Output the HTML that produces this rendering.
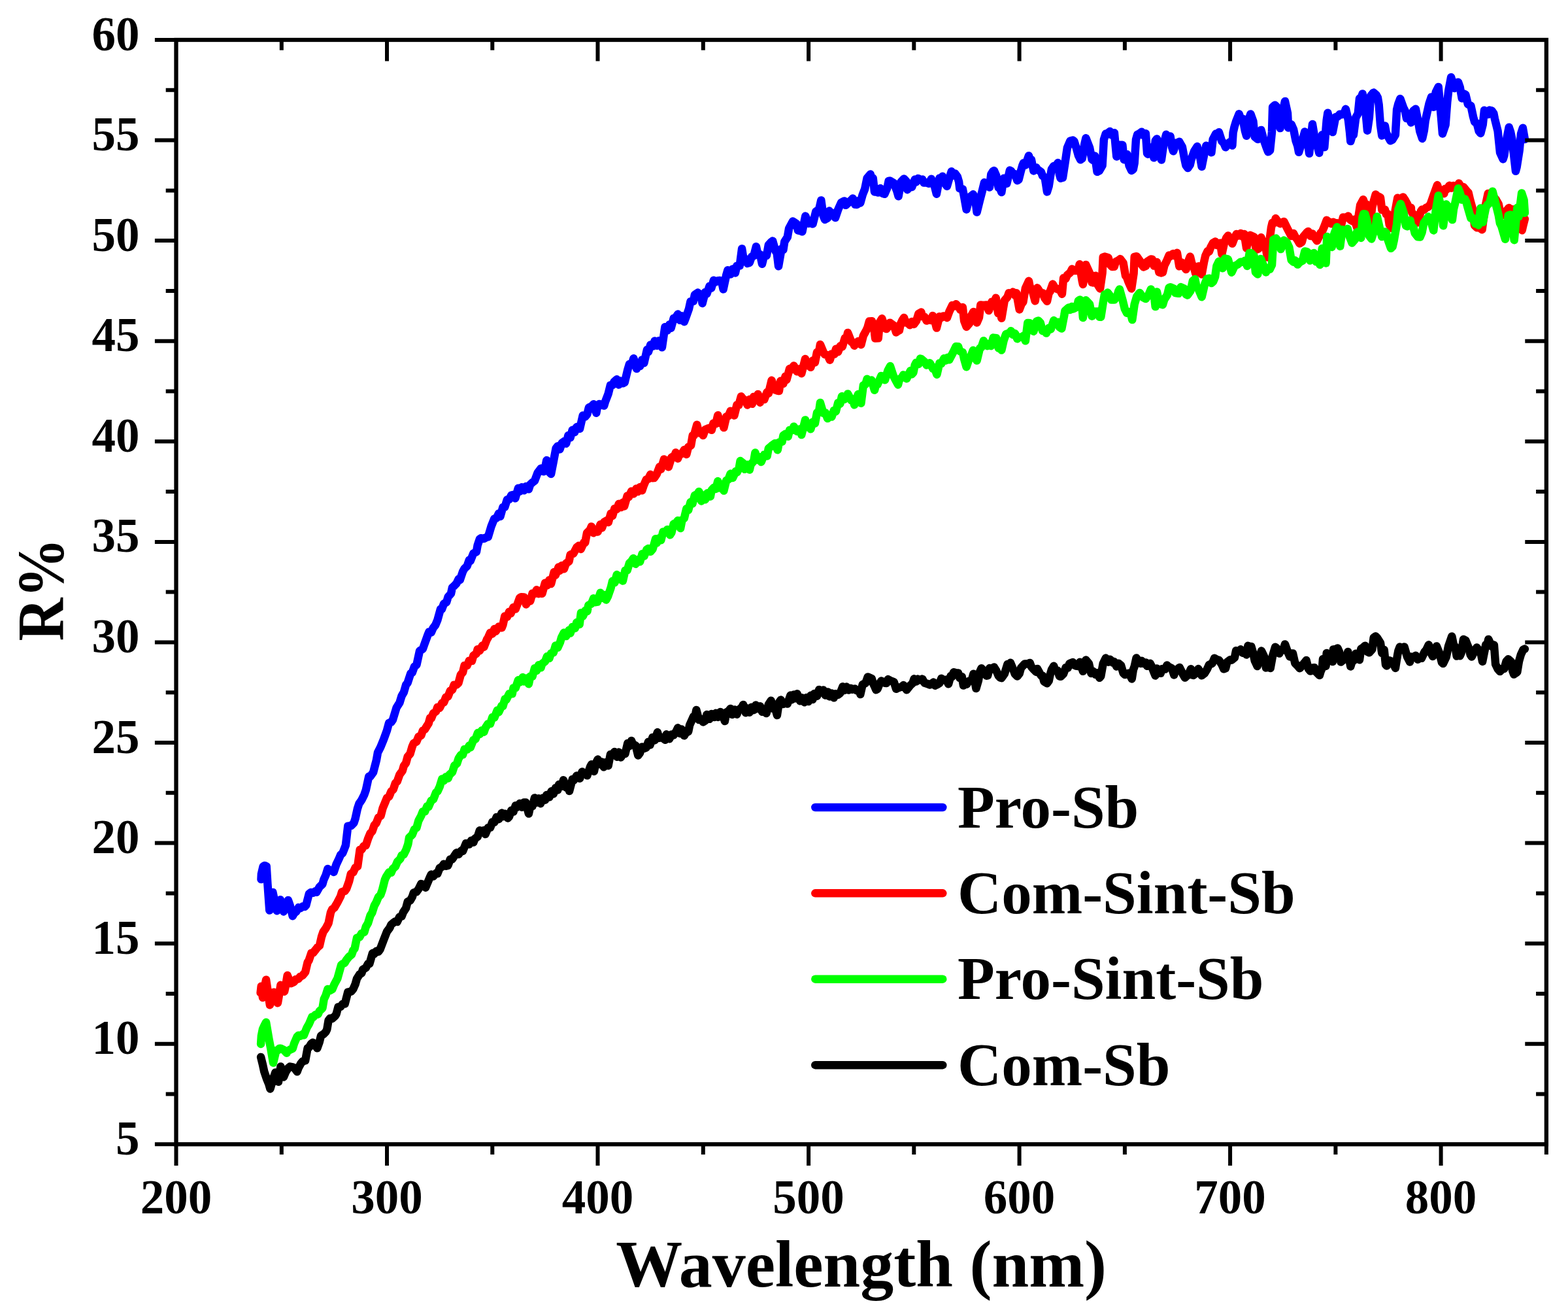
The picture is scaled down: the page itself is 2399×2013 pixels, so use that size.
<!DOCTYPE html>
<html lang="en">
<head>
<meta charset="utf-8">
<title>R% vs Wavelength (nm)</title>
<style>
html,body{margin:0;padding:0;background:#fff;}
body{width:2399px;height:2013px;overflow:hidden;}
svg{display:block;}
text{font-family:"Liberation Serif",serif;font-weight:bold;fill:#000;}
.tk{font-size:73px;}
.ttl{font-size:102px;}
.yl{font-size:102px;}
.lg{font-size:93px;}
.c{fill:none;stroke-width:12.5;stroke-linejoin:round;stroke-linecap:round;}
.ax{stroke:#000;fill:none;}
</style>
</head>
<body>
<svg xmlns="http://www.w3.org/2000/svg" width="2399" height="2013" viewBox="0 0 2399 2013">
<rect x="0" y="0" width="2399" height="2013" fill="#fff"/>
<g id="curves">
<polyline class="c" stroke="#000000" points="399.1,1616.9 401.7,1627.4 404.3,1639.3 408.2,1650.6 411.4,1658.5 413.4,1665.6 417.9,1650.3 421.4,1640.4 426,1654.8 429.4,1631.5 434,1647.4 437.2,1639.6 440.9,1633.8 443.7,1631.5 447.7,1632.4 450.1,1633.3 454.6,1639.2 456.6,1633.6 460.3,1626.7 463,1623.5 467.1,1622.3 470.6,1603.3 472.7,1602.4 475.9,1596.7 478.6,1594.7 482.4,1599 485.4,1603.3 488.8,1593.6 491.1,1584.2 495.3,1581.6 498.5,1578.4 500.3,1574.6 502.6,1560.7 504.9,1557.7 508.2,1558.2 512.9,1553.9 514.6,1551 517.4,1540.5 521.1,1539.8 524.3,1535.7 527.7,1535.4 532.3,1517.6 537.2,1516.6 540.3,1513 543.6,1505.5 546,1497 550.1,1490.5 553.3,1488.4 555.1,1483 559.8,1480.4 563,1474.3 565.4,1474 570,1458.1 572.7,1459 575.9,1454.7 579.1,1455.6 581.4,1452.4 587.1,1437.5 592,1425 596.3,1419.2 598.5,1414.4 601.7,1411.6 604.9,1409.4 607.7,1410 611.4,1402.3 614.6,1401.7 616.9,1395.5 621.1,1389.1 623.7,1379.4 627.5,1377.4 630.7,1372.1 632.9,1365.6 637.2,1364.3 640.4,1359.9 644.3,1351.9 646.9,1353 651.1,1357.7 653.3,1352.3 658,1341.3 659.8,1337.6 663,1340.5 667.1,1335.8 669.4,1336.3 672.7,1327.7 676.3,1325.7 679.1,1321.7 682.3,1324.7 685.4,1323.9 688.8,1314.5 692,1314.2 694.6,1310.1 698.5,1304.3 701.7,1306.8 706,1301.1 708.1,1301.8 712.9,1290 717.8,1291.5 721,1285.7 724.3,1288.6 726.6,1282.8 730.7,1279.9 733.9,1270.3 735.7,1271.8 740.4,1270.1 742.6,1276 746.8,1266.2 750.1,1265.9 753.3,1257.5 756.3,1257.7 759.7,1249.9 763,1253.2 767.7,1243.6 769.4,1249 772.6,1244.8 776.9,1251.4 779.1,1249.1 782.3,1239.6 785.5,1241.7 788.8,1232.2 790.6,1235 795.2,1229 798.4,1234.7 801.7,1227.6 804.3,1227.5 808.9,1244.6 811.3,1233.7 814.6,1233.2 818,1220.4 821,1227.8 824.2,1221.3 827.1,1229.2 830.7,1220.6 833.9,1223.8 836.3,1216 840.4,1219.4 843.6,1210.3 846.8,1214.4 850,1205.2 853.3,1208.5 855.1,1200.1 859.7,1202.7 862,1193.2 866.2,1204.6 869.4,1201.8 871.1,1209.9 875.8,1192 878,1193.5 882.3,1186.6 887.1,1190.7 890.6,1180.5 896.3,1184 898.4,1186.3 903.1,1172.7 904.9,1169.3 908.9,1179.9 911.3,1168.1 914.6,1161.6 917.8,1169.2 921,1165.5 923.7,1173.3 927.4,1165.9 930.6,1171.2 933.9,1154.1 936.3,1154.3 940.3,1150 944.3,1157.8 946.8,1150.6 950,1158.4 953.4,1152.7 956.5,1152.9 960.3,1136.9 962.9,1141.1 966.1,1133.1 968.3,1138.4 972.6,1140.4 976.3,1155.5 979.1,1151.7 982.3,1142.5 985.4,1144.9 988.7,1143.7 992,1134.7 994.6,1139.5 998.4,1127.9 1001.6,1132.4 1006,1120.1 1008.1,1128.9 1012.9,1128.1 1017.8,1131.8 1019.7,1123.3 1024.2,1130.2 1027.7,1123.5 1030.7,1124.5 1034.6,1118.6 1037.1,1113.3 1040.3,1121.9 1042.6,1115.4 1046.8,1125.3 1049.4,1120.9 1053.2,1118.9 1055.1,1109.3 1060.9,1096.2 1062.9,1098.3 1065.4,1086 1069.4,1101.1 1072.3,1099.8 1075.8,1104.4 1079,1102.5 1081.4,1093.1 1085.5,1099.8 1088.7,1092 1092.9,1097.1 1095.2,1090.8 1098.4,1096.9 1102,1089 1104.8,1090.9 1108.9,1103.1 1111.3,1089.6 1114.6,1087.9 1117.7,1083.9 1120.3,1093 1124.2,1085.5 1127.4,1092.7 1129.4,1086.7 1135.1,1081.8 1137.1,1077.9 1140.9,1090.3 1143.5,1083.5 1146.8,1089.7 1150,1081.7 1153.2,1086.2 1156.4,1078.6 1159.1,1084 1162.9,1080.2 1166.1,1088.8 1170.6,1086.6 1172.6,1091.1 1175.8,1077.7 1179.7,1071.7 1182.2,1083.8 1185.5,1081.2 1188.9,1094 1191.9,1074.4 1194.6,1070.6 1198.4,1076.9 1201.4,1074.9 1204.8,1076.5 1209.4,1063.6 1211.3,1070.3 1214.5,1062.6 1217.7,1068.3 1219.7,1061.3 1224.2,1072.3 1226.6,1067.2 1230.6,1074.2 1233.8,1067.1 1236.9,1073.1 1240.3,1063.8 1243.5,1069.9 1246,1061 1250,1064.8 1253.2,1054.9 1256.3,1059.5 1259.6,1055.4 1262.9,1063.6 1266.6,1058.4 1269.3,1065.4 1272.5,1060.6 1275.8,1067.3 1278,1061.3 1282.2,1062.7 1285.4,1060.3 1289.4,1050.2 1291.9,1055.9 1295.1,1050.6 1298.6,1055.5 1301.6,1052.7 1303.7,1054.6 1308,1053.5 1310.6,1056.3 1314.5,1055.3 1316.3,1062 1319.7,1047.1 1324.3,1044.8 1327.7,1035.4 1330.6,1036.5 1333.8,1038.1 1335.7,1045 1338,1049.6 1340.3,1055.2 1342.6,1053.8 1346,1045.1 1348.3,1041.6 1354,1044.7 1356.4,1044.9 1358.6,1039.1 1362,1041 1367.7,1043.3 1371.1,1053.7 1374.6,1052.1 1380.3,1050.2 1382.2,1048 1387.1,1055.3 1392.9,1048.1 1396.3,1045.1 1398.6,1038.3 1401.6,1042.6 1404.3,1038.7 1408.9,1040.5 1411.2,1038.6 1414.6,1044.7 1418,1045.6 1422.6,1047.5 1428.3,1043.6 1430.6,1048.7 1433.4,1047.4 1437.4,1044.9 1440.3,1037.8 1442,1040.4 1447.7,1039.8 1451.1,1046.2 1454.6,1033.9 1456.4,1035.3 1459.1,1028.3 1462.6,1029.3 1466.1,1029.5 1468.3,1037.1 1471.7,1035 1474,1048.6 1475.7,1044 1479,1046.8 1482,1041.9 1486.6,1040.6 1489.4,1030.8 1493.4,1053.1 1496.9,1041.1 1499.1,1027.6 1501.5,1022.3 1503.7,1024.4 1509.4,1033.6 1511.2,1033.3 1514,1022.1 1517.4,1023.6 1520.9,1020.5 1524.3,1025.9 1527.7,1033.8 1530,1036.3 1532.3,1037.1 1536.9,1030.6 1541.4,1016.1 1543.5,1018.7 1546,1013.8 1550.6,1025 1552.9,1031.1 1556.4,1034.5 1559.7,1030.4 1562,1021.8 1567.7,1015.5 1573.4,1015.6 1575.7,1013.9 1578,1020.1 1581.4,1023.9 1585.4,1027.9 1587.1,1022.9 1592.9,1033.4 1595.1,1033.6 1597.4,1042.4 1602,1045.3 1604.7,1041.4 1606.6,1032.2 1608.9,1024.5 1612.3,1018.8 1614.4,1025.6 1618,1025.8 1620.9,1034.3 1623.1,1034.8 1627.1,1030.6 1630.6,1021.2 1633.8,1021.5 1636.3,1015 1641.4,1013 1643.4,1017.3 1646.6,1018.6 1649.9,1019.2 1652.3,1012.8 1656.9,1026.8 1659.6,1012.5 1661.4,1009.6 1666,1015.1 1669.4,1029.9 1672.5,1026.8 1676.3,1031.9 1678.9,1029.3 1682.2,1036.8 1684.3,1034.2 1687.7,1015 1690,1010.4 1691.8,1006.6 1695.7,1012.7 1698.3,1008.7 1702.6,1013.5 1704.7,1012.1 1708.3,1019.5 1711.2,1014.7 1715.1,1017.9 1718.6,1029.6 1720.9,1032 1724.3,1030.8 1727.3,1029.7 1731.7,1038.4 1733.8,1024.7 1735.7,1019.5 1738.6,1006.4 1744.9,1014.9 1746.7,1010.8 1750.6,1015.3 1753.1,1013.4 1755.1,1018.8 1759.6,1014.7 1762,1019.2 1765.4,1028 1767.7,1033.5 1770,1022.6 1772.3,1029.2 1775.7,1029.8 1778,1023.3 1782.6,1023.6 1785.4,1017.5 1787.1,1019.4 1792.9,1022.3 1796.3,1032.4 1798.3,1024.5 1800.9,1024.3 1804.7,1020.9 1806.6,1024.8 1810,1031.6 1812.9,1036.6 1818,1032.1 1822,1023.3 1824.1,1032.5 1826,1032.9 1830.6,1028.8 1833.4,1023.1 1838.6,1033.3 1843.1,1029.8 1846.6,1024.1 1850,1016.7 1854.6,1014.9 1858,1006.8 1862.8,1009.4 1864.9,1009.7 1869.4,1016.7 1872.4,1023.3 1875.1,1022.4 1877.4,1012.7 1882.1,1009.3 1884.3,1009.8 1888.9,1006 1891.1,995.3 1895.1,996.4 1898.2,993.3 1901.4,998.8 1904.7,996 1907.1,1001.5 1909.4,987.8 1912.3,989.3 1914.4,988.9 1917.4,999.3 1919.7,1010.5 1923.7,1019.1 1927.7,1002.9 1930,995.6 1934.6,1005.2 1936.9,1021.4 1940.2,1020 1943.7,1021.9 1947.1,1003.1 1951.1,989.8 1953.1,991.3 1957.4,999.6 1959.5,994 1963.1,994.4 1966,985.4 1970,996.7 1973.4,1004.4 1975.6,999.6 1978,999.5 1981.4,1014.5 1984.9,1018 1988.5,1022.3 1991.7,1018.6 1995.1,1014.5 1998.6,1010 2002,1023.2 2004.9,1026.6 2008.3,1021.4 2011.1,1021.3 2013.7,1027.9 2018.9,1033.1 2020.8,1026.5 2022.9,1022 2024,1008.1 2028.6,1018.7 2029.7,999 2033.1,1001 2036.9,1004.2 2038.9,1012.1 2040,993.4 2044,993 2046.6,991.5 2049.1,997.2 2051.4,1012.6 2057.1,1007.9 2060.6,1002.5 2062.3,997 2066.3,1019.5 2069.2,1010 2070.9,1010.6 2074.3,999.7 2080,1009.3 2082.3,992.6 2085.3,990.7 2088.6,987.7 2091.8,996.8 2094.9,998.2 2099.4,993.3 2101.7,975.2 2104.7,973.3 2106.9,975.4 2112,983.3 2114.3,998.9 2117.7,993.9 2120,1016.6 2121.7,1018.4 2125.7,1010.3 2130.3,1012.4 2134.9,1021.9 2138.3,1001.1 2139.4,995.5 2141.7,989.5 2146.6,993.9 2148.6,989.4 2153.1,1004.9 2157.1,1012.5 2159,1004.6 2162.7,1005.8 2165.9,1002.7 2169.2,1008.7 2172.4,1005.9 2175,1006.7 2179.6,997 2182.1,994.3 2185.9,986.3 2188.5,997.3 2192.1,1004 2195,1000 2197.9,988.4 2202.4,999.4 2205.9,1013.2 2207.9,1015 2212.7,1005.1 2216.1,988.2 2221.3,973.4 2224,986.2 2226.4,989.4 2228.7,1003.6 2230.4,998.9 2233.7,1003.2 2235.6,999 2239,978 2242.4,979.6 2247,991.1 2249.8,1001.8 2251.6,1004.5 2257.3,993.5 2259.5,990.5 2263,995.6 2265.9,1000.5 2268.1,1011.9 2273.3,986.1 2275.6,985.2 2277.3,977.9 2282.4,988.9 2285.9,986.6 2288.1,1016.1 2291.6,1023.3 2294.9,1027 2299.6,1022.3 2301.4,1022.9 2304.6,1011.4 2307.6,1008.2 2312.1,1012.1 2314.3,1026.5 2316.1,1031.5 2321.3,1028 2324,1011.4 2327,1001.1 2330.4,993.9 2332.9,992.6"/>
<polyline class="c" stroke="#0000ff" points="399.5,1345.1 399.9,1336.9 402.6,1325.4 405,1324 407.7,1325.2 409.4,1352.2 412.3,1392.5 414.6,1381.2 417.4,1365 421.1,1382.8 423.7,1393.2 428.9,1376.3 430.8,1381.2 434,1394.4 437.2,1384.7 440.9,1376.9 443.7,1385.1 447.7,1401.2 450.1,1396.9 453.3,1394.3 456.9,1388.2 459.8,1389.1 463,1386.6 466.2,1386.9 468.3,1384.7 472.9,1367 475.9,1364.9 479.1,1365.8 482.4,1363.4 484.3,1364.8 488.8,1356.7 493.4,1352.4 495.3,1345.6 498.5,1338.5 501.4,1329 504.9,1331.7 508.2,1331.1 510.6,1334 514.6,1322 518.6,1313.6 521.1,1307.7 524.3,1304.8 526.6,1298.9 528.9,1293 532.3,1263.7 537.2,1263 541.4,1258.9 543.6,1252.1 546.9,1237 549.4,1229.4 553.3,1223.8 557.4,1215.4 559.8,1208.5 564.3,1187.7 566.2,1188.2 571.1,1181.3 575.9,1162.9 578,1151.1 582.3,1142.7 587.1,1130.9 592,1117.3 595.1,1105.8 598.5,1104.6 600.9,1101.2 606.6,1082.5 611.4,1074.9 614.6,1064.4 617.8,1059.1 621.1,1047.6 623.7,1044.3 628.3,1030.1 630.7,1028.9 634,1019.6 637.4,1017 642,995.8 646.9,992.5 648.9,986.7 654.6,971 656.5,966.4 659.8,967.4 662.6,960.8 666.2,956.1 669.4,948.4 674,931.6 675.9,932.2 679.1,923.5 683.1,921.3 685.6,913 690,907.9 692,898.7 694.6,896.5 698.5,892.4 701.7,885.6 703.7,887.2 708.1,874.3 710.6,869.8 714.6,866 717.8,856.7 719.7,858 724.3,846.5 728.9,844.1 730.7,833.9 733.9,824.5 735.7,823.2 740.4,824 744.9,821.5 746.8,821.3 751.7,804.8 756.3,793.4 759.7,792.4 763,785.5 765.4,790 769.4,775.9 772.3,775.7 775.9,764.4 779.1,763.8 782.3,757.6 785.5,756.9 788.3,762.2 792.9,746.7 795.2,751.6 798.4,745.3 801.7,750.2 804.9,743.9 808.9,748.3 811.3,741.1 814.6,738 818,735.5 822.6,723.3 827.5,716.6 831.7,721.3 833.9,715.7 836.3,704.1 840.4,722.3 843.1,724.9 846.6,707 850.6,685.9 853.3,682.4 856.5,687.3 859.7,677.7 864.3,674.5 866.2,678.5 869.4,666.1 872.6,669.4 875.7,657.8 879.1,661.3 882.3,653.1 887.1,655.7 891.7,635.6 895.2,637.4 898.4,633.6 900.9,623.5 905.4,621.4 908.1,618.2 912.3,631.7 914.5,619.8 916.9,618 921,619.4 924.2,620.6 926,614.5 930.6,602.6 933.9,589.2 937.1,589 939.7,583.8 943.6,580.3 946.8,588.5 948.9,582.6 953.2,586.2 955.7,585.1 960.3,565.7 962.9,557 966.1,558.4 969.4,548.3 974,564 975.8,556.3 979.1,560.3 982.3,550.4 985.4,555.2 990,534.9 992,538.2 995.2,527.6 999.1,529.5 1001.6,521.5 1004.9,528.7 1008.3,521.2 1012.9,531.3 1017.4,500.3 1021,505.5 1024.2,496.5 1026.6,501.8 1030.7,486.8 1033.4,486.3 1037.1,480.6 1040.3,489.8 1042.6,483.2 1046.8,492.2 1049.4,485.5 1054,472.5 1056.5,461.1 1060.9,460.7 1062.9,451 1067.7,447.8 1072.6,452.5 1074.6,464 1079,446.9 1081.4,449.5 1085.5,437.7 1088.3,440.7 1091.9,428.8 1095.2,431.2 1097.4,429.4 1101.6,429.1 1104.8,434 1106.6,442.5 1111.3,420.4 1113.4,413.3 1117.7,419.6 1121,411.6 1124.9,417.5 1127.4,406.7 1131.7,406.5 1135.1,380.5 1137.1,393.3 1140.9,396.6 1143.5,403 1146.8,401.8 1150,392.7 1153.2,391.5 1156.9,377.2 1159.7,389.9 1162.9,389.2 1166,403.8 1169.3,390.6 1172.9,391 1175.8,374.8 1179.7,370.5 1182.2,368.6 1186.6,384.2 1188.7,387.5 1191.1,407.3 1195.7,380.6 1198.4,382 1200.3,369.6 1204.8,362.7 1207.1,349.4 1212.9,338.6 1218.6,342.3 1220.9,352.3 1225.4,353.3 1227.4,354.3 1232.3,330.5 1237.1,341.9 1241.4,340.4 1243.5,342.6 1248.3,323.6 1253.2,320.1 1256.3,306.4 1259.6,330.1 1262,335.9 1266.1,333.5 1268.9,322.5 1272.5,329.5 1275.8,325.9 1278,333.1 1282.6,319.8 1287.1,309.8 1291.9,307.4 1294,313.8 1298.3,309.9 1302.6,305.9 1304.8,303.5 1308.3,312.8 1311.2,312.9 1314.5,306.8 1316.3,310.4 1319.7,298 1323.1,289.4 1326.6,272.6 1331.7,266.6 1333.8,273.7 1335.7,272.6 1338,293.4 1340.3,293.4 1343.5,294.5 1347.1,288.1 1350,295.8 1353.4,296.8 1357.4,287.5 1359.6,276.9 1361.4,276.5 1367.7,280.2 1372.3,292.2 1374.6,300.2 1378.6,278 1383.1,273.4 1387.1,277.7 1388.3,290.2 1391.9,283.9 1395.1,286.2 1399.7,274.5 1401.6,278.3 1404.8,272.9 1407.7,275.3 1411.2,274.5 1413.4,279.4 1418,279.2 1420.9,280.8 1424.9,273.8 1427.4,282 1429.4,283 1432.9,296.7 1437.4,272.5 1440.3,275.1 1442,269.8 1446.6,281.6 1448.9,284.9 1452.3,273 1455.7,262.3 1459.6,268.4 1461.4,265.6 1464.9,270.5 1467.1,278.1 1468.3,288.2 1472.9,289.4 1475.1,300.7 1478.6,320.4 1482.2,306.6 1484.3,301 1488.9,297.3 1492.3,306.9 1494.6,324.6 1499.1,306.3 1502.6,292.9 1506,279.1 1508,283.8 1510.6,280.2 1514,286.5 1516.3,266.8 1519.1,262.1 1520.9,261 1524.3,268.8 1527.7,287 1530,288 1532.3,294.1 1535.7,272.7 1540.3,280.8 1544.9,260.6 1547.1,261.8 1549.9,265.9 1552.9,266.2 1556.4,276.2 1558.6,274.6 1562,261.3 1564.3,253.3 1566,249.3 1568.9,252.6 1574,238.2 1575.7,244.7 1578,244.6 1581.4,261.4 1585.4,256.2 1587.1,259 1592.9,263.1 1595.1,269 1598.6,271.5 1602,293.4 1604.7,284.7 1606.6,272 1608.9,258.8 1612.3,253.9 1614.4,256.7 1618.6,248.9 1620.9,266.3 1622.6,272.7 1626,271.8 1629.4,249.7 1632.9,226 1637.4,215.6 1641.4,214.6 1643.4,215.9 1646.6,225.9 1650,238 1653.1,244.3 1655.7,242.6 1659.1,221.4 1661.4,211.3 1667.1,225.9 1670.6,243.7 1672.5,245.3 1675.1,238.5 1678.6,262.8 1682,261.1 1686.6,253.2 1688.9,213.4 1691.8,204.5 1694.6,203.9 1698.3,201 1700.3,206.2 1704.9,203.2 1707.1,226.7 1708.3,239.5 1711.2,224.6 1712.9,221.8 1717.4,221.8 1719.7,244.2 1724.3,236 1727.7,253.7 1731.1,260.9 1733.8,258.9 1735.7,249.6 1738,213.5 1740.2,205.7 1743.1,204.5 1746.7,201.8 1749.4,207 1752.9,204.2 1755.1,234.7 1756.3,235.9 1760.9,225.5 1762.8,228.5 1765.4,241.3 1767.7,215.4 1770,212.4 1773.4,232.2 1776.9,244.6 1780.3,220.8 1782.6,211.9 1784.3,205.8 1788.6,212 1790.6,208.5 1792.9,224.5 1795.1,231.3 1799.7,218.4 1801.5,221.7 1804.3,216.8 1808.9,224.9 1812.3,243.3 1814.4,253 1817.4,257 1820.8,252 1822.6,243.8 1827.1,231.4 1831.7,224.1 1833.7,235.4 1835.7,238 1838.6,254.9 1843.1,232.6 1845.4,222.8 1850,224.7 1853.4,233.2 1855.7,213.1 1860.3,204.4 1862.8,207.7 1864.9,202.2 1869.4,216.1 1872.4,219 1875.1,225.2 1879.7,219 1882.1,217 1885.4,222.6 1886.6,202.8 1888.6,194 1891.1,185.8 1895.7,174.2 1898.2,181.6 1901.4,181.7 1904.9,200.2 1907.1,207.7 1910.6,182.3 1913.4,174.4 1917.4,185.7 1919.7,209.2 1924.3,213.1 1927.3,207.7 1929.4,198.9 1933.4,213.7 1938,226.8 1940.2,232.3 1943.1,230 1946,201.8 1947.1,163.7 1950.6,160.7 1953.1,163.2 1955.1,172.9 1958.6,196.1 1962,172.9 1966,154.9 1970,173.1 1971.1,195.4 1975.7,190.3 1979.1,198.1 1982.6,215.4 1985.3,223.1 1987.1,232.8 1991.7,218.3 1996.3,201.5 1999.7,209 2003.1,234.8 2008,190 2012.6,217.4 2014.3,218.2 2018.3,233.9 2020.8,214.7 2022.9,206.2 2026.3,225.2 2029.7,183.9 2031.4,172.8 2035.4,188.9 2038.9,202.1 2043.4,179 2046.9,178.2 2049.8,174.7 2052.6,175.3 2056.3,174.1 2058.9,166.8 2062.9,183.6 2065.1,202.5 2066.3,216.1 2069.2,206.4 2070.9,206.2 2074.3,179.9 2077.7,173.8 2080,150.5 2082.1,150.8 2084.6,143.4 2089.1,168 2092,199.7 2094.9,179.5 2097.1,146.8 2101.4,141.6 2105.7,145.3 2107.9,149.3 2109.7,160.6 2112,191.4 2114.3,207.4 2118.9,192.4 2120.8,202.8 2123.4,208.3 2127.2,215.2 2130.3,213.8 2134.9,206.2 2137.1,167.5 2139.4,158.7 2142.3,151 2147.4,165.1 2149.8,169.9 2152,180.9 2156.3,180.9 2158.9,187.5 2159,175.6 2162.7,169.2 2165.9,166.8 2170.4,189.4 2172.4,201.1 2176.1,212 2178.8,200 2180.7,184.7 2186.4,159 2189.9,148.4 2193.3,163.7 2196.7,141.1 2200.7,132.9 2204.7,176.7 2207,204.4 2211.6,190.9 2214.3,155.8 2216.1,139.5 2220.1,118.2 2225.3,135 2227.2,128 2231,125.7 2233.7,133.3 2236.7,150.4 2240.1,143.5 2242.4,144.9 2245.9,159.5 2250.4,161.8 2253.9,178.4 2256.2,186.7 2259.6,188.7 2262.7,200.6 2265.3,203.9 2268.7,190.8 2271,168.7 2276.7,175.1 2278.8,168.6 2282.4,169.4 2285.3,173.6 2287,182.1 2291.6,200.4 2295,233.4 2299.6,243.4 2301.4,237.6 2304.1,217.8 2308.7,194.7 2311.1,201.7 2313.3,212.4 2319,261.8 2320.7,255.1 2324.7,229.7 2327,204.7 2329.9,195.8 2332.9,213.1"/>
<polyline class="c" stroke="#ff0000" points="398.6,1518.6 399.7,1508.7 402,1526 405,1508.8 407.1,1498.7 412.9,1537.2 414.6,1533.1 419.1,1517.8 421.1,1524.9 424.9,1534.3 427.5,1518.9 429.4,1506.8 435.1,1516.7 437.2,1507.1 439.7,1492 443.7,1501.9 445.4,1504.1 450.1,1501.8 452.3,1498.2 456.6,1497.3 459.1,1494 463,1491.9 467.1,1487 470.6,1472.1 472.7,1468.8 476.3,1458 479.1,1457.5 483.1,1452.5 485.6,1449.2 488.9,1446.5 492,1432.9 494.6,1425.4 498.5,1419.9 502.6,1412.1 506,1395.6 508.2,1390.9 511.4,1388.7 516.3,1380.4 521.1,1371 523.1,1364.2 527.5,1363 530,1359.6 534,1348.4 536.9,1336.6 540.4,1334.3 543.6,1327.3 547.1,1325.3 550.6,1300 553.3,1299.6 556.5,1294.3 559.7,1293.3 563,1283.2 566.6,1274.5 569.4,1271.8 572.7,1262.2 575.7,1259 579.1,1250.4 582.6,1247.7 585.6,1236.1 589.4,1227 592,1220.5 595.2,1218.5 598.6,1210.5 601.7,1207.5 604.9,1198 607.7,1195.3 611.4,1184.9 615.7,1179 617.8,1171.7 621.1,1167.1 623.7,1157.5 627.5,1152.9 630.7,1141.9 632.9,1136.9 637.2,1134.6 640.4,1126.8 644.3,1125 646.9,1117.5 650.1,1115.5 653.3,1110.2 655.7,1106.6 658,1098.3 659.8,1099 663,1091 667.1,1088.1 669.4,1081.7 672.7,1082.9 676.3,1075.4 679.1,1074.4 682.3,1066.4 685.4,1065.5 688.8,1056.7 692,1055.1 694.6,1047.7 698.5,1047.6 701.4,1044.8 704.9,1032 708.1,1028.3 710.6,1018 714.6,1018 717.8,1010.7 722,1010.9 724.3,1002.9 728.9,999.6 730.7,993.2 733.9,995.3 738,987.6 740.4,989.7 744.9,978.3 747.1,974.6 750.1,967.7 753.3,969.5 756.5,962.1 758.6,965.6 763,958.7 767.7,960.2 769.4,955.8 772.3,942.6 775.9,943.6 779.1,935.7 781.4,938.5 785.5,929.1 788.8,931.5 792.9,920.7 795.2,914.4 797.4,913.2 801.7,913.5 804.9,924.6 806.6,920.9 811.3,919.3 814.6,907.8 818,908.1 821,902.3 824.2,908.3 827.5,903.4 829.4,908 834,891.7 837.1,895.4 840.4,887.3 843.1,893 847.7,875.1 850,879.6 854.6,867.5 856.5,872.9 859.7,865.1 862.9,870.2 866,861.9 870.6,858.6 872.6,848.5 877.4,846.6 882.3,837.4 885.5,834.7 888.7,839.9 893.4,829.9 895.2,830.2 898,815.3 902.6,810.8 904.9,805.4 908.1,815.2 911.7,811.1 914.5,813.5 918.6,802.2 921,807.4 924.2,798.6 927.7,796.5 930.7,799 934.6,785.5 937.1,789 940.3,777.9 943.7,778.9 946.8,770.7 950,776.1 953.2,768.6 955.1,774.4 959.7,758.6 962,760.2 966.1,751.4 969.4,755.4 973.4,747.5 975.8,752.1 979.1,745.1 982.3,750.2 984.9,742.5 988.7,733.6 991.7,732.8 995.2,725.8 998.4,731.2 1000.9,731.1 1004.9,725 1009.1,713.9 1011.3,717.6 1016,702.4 1017.8,709.4 1021,704.9 1022.9,714.2 1027.4,699.6 1032,697 1033.9,692.3 1037.1,701.4 1038.9,696.3 1043.4,693.8 1046.8,688.1 1050.3,695 1053.2,683.5 1057.1,681.5 1059.7,666.2 1061.7,666.1 1066.3,649.7 1069.4,662.2 1073.1,660.9 1075.8,666 1079,657 1082.3,655.7 1084.6,654.9 1088.7,657.8 1091.4,647.6 1095.2,648.2 1098.3,635.2 1101.6,647.1 1104.8,644.4 1107.4,654.1 1111.3,637.3 1114.3,636.5 1117.7,628.9 1121,629.5 1123.4,635.4 1127.4,619.4 1130.3,619.5 1133.9,606.4 1136,609.4 1141.7,613.5 1143.5,619.6 1146.8,611 1150.9,617.8 1153.2,606.9 1157.7,607.1 1159.7,602.9 1162.9,615.7 1164.6,611.3 1169.3,611.1 1173.7,599.6 1175.8,601.8 1180.6,581.8 1185.5,596.1 1189.7,597.7 1191.9,598.1 1194.3,582.7 1198.4,587 1201.6,575.7 1203.4,581.1 1208,564.1 1210.3,565.9 1214.5,559.4 1219.4,568.3 1224.2,563.9 1226.3,571.3 1232,549.1 1233.8,558.7 1237.7,558.9 1240.3,561.8 1243.5,551.5 1246.9,554.4 1250,538.7 1253.2,537.3 1254.9,526.9 1259.6,538.2 1261.7,542.1 1266.1,543.1 1269.7,550.7 1272.5,541.5 1276.6,541.6 1279,533.8 1282.2,538.2 1285.7,529.1 1288.7,530.3 1292.6,517.6 1295.1,517.8 1297.1,508.9 1302.6,523 1304.8,523.6 1307.1,528.7 1312.9,522 1317.4,527.3 1320.9,513.4 1325.4,505.2 1327.4,501 1330,491.4 1334,491.3 1336.9,498.5 1339.1,517.6 1343.7,517.3 1346,492.8 1349.4,487.3 1354,501.9 1356.3,503.1 1359.6,498.4 1361.4,493.7 1367.7,498.2 1371.1,508.4 1374,506.1 1375.8,505.6 1378,495.3 1380.3,490.2 1383.1,485.9 1385.4,493.5 1388.3,493 1391.9,497.2 1395.1,492.1 1398.3,496 1402,490.8 1405.4,479.9 1409.4,477.6 1411.2,484.2 1414.6,484.6 1417.7,490.6 1421.4,488.6 1424.1,489.9 1427.1,482.9 1430.6,492.4 1432.9,501.6 1437.4,484.2 1440.3,486 1443.1,483.4 1446.7,484 1448.9,486.2 1452.3,476.8 1456.9,467.1 1460.9,468.2 1462.8,465.2 1467.1,469.7 1469.3,473.9 1472.9,470.1 1475.1,490.7 1478.6,499.9 1483.1,494.6 1485.4,483.8 1489.4,477 1491.9,488.7 1494.6,493.6 1498,485.6 1500.3,466.4 1504.3,467 1509.4,466.4 1512.9,475.1 1517.4,461.7 1520.9,461.9 1523.7,455.7 1527.1,479.2 1530,476.3 1532.3,486.7 1536.9,459.5 1541.4,454.3 1543.5,448.2 1546.6,449.2 1549.9,446.6 1553.1,451.9 1555.1,448.2 1559.7,473.4 1562.8,465.1 1565.4,461.8 1568.9,440.8 1574,429.8 1575.7,438.6 1579.1,443 1583.7,460.3 1587.1,440.3 1592.9,449.2 1595.1,448.2 1598.6,456.3 1602,460.8 1604.7,448.2 1606.6,445.8 1610.6,434.6 1614.4,440.8 1618,442.4 1620.9,441.9 1624.9,449.7 1627.1,425.2 1630.5,426.3 1632.9,420.8 1637.4,417 1640.2,411.5 1642,414 1647.7,413.9 1649.9,412.3 1651.7,404.2 1655.7,429.5 1656.9,434.9 1659.6,421.2 1661.4,405 1667.1,417.6 1670.6,432 1672.5,432.4 1676.3,421.7 1679.7,436 1683.1,441.4 1686.6,417.4 1687.7,393.4 1690.6,392.6 1695.7,394.2 1698.3,404.7 1701.4,407.9 1704.7,407.7 1707.1,400.4 1710.6,398.7 1714,396.1 1718.6,402.3 1722,421.6 1724.1,424.3 1726.6,431.4 1731.1,441.5 1734.6,418 1735.7,392.9 1739.1,392.2 1744.9,400.4 1746.7,404.8 1749.4,408.3 1753.1,406.9 1755.1,400.2 1760.9,396.5 1762.8,396.7 1765.4,406.5 1770,401.1 1773.4,416.5 1776.9,417.4 1778.9,416.7 1781.4,406.2 1784.9,399.4 1788.6,390.6 1790.6,392 1795,387.9 1798.3,391.7 1800.9,386.7 1804.3,407.3 1807.9,401.5 1810,405 1814.6,412.1 1818,399.9 1820.9,392.5 1824.1,405.4 1826,406.5 1829.4,418.8 1834,407.2 1838.6,419.6 1842,401.1 1844.3,391.2 1847.7,384 1849.9,384.8 1852.3,378.2 1855.7,371.9 1859.5,369.5 1861.4,375 1867.1,371.8 1869.4,388.5 1872.9,372.5 1876.3,363.8 1878.9,360.5 1882,365.9 1885.4,372.6 1888.9,363.3 1891.8,358.1 1895.7,360.5 1898.2,356.9 1901.5,362.2 1903.7,358.1 1907.1,379.5 1911.1,361.8 1912.9,359.9 1918.6,362.5 1922,381.8 1925.4,380.6 1927.3,377 1929.4,363.3 1934.6,376.4 1936.9,381.5 1939.1,393.6 1942.6,366.4 1944.9,348.2 1946.6,341 1949.8,340.9 1951.7,334.1 1956.3,340.6 1958.6,342.1 1964.3,338.9 1970,350.4 1973.4,356.9 1975.6,361 1978.9,356.9 1981.4,361.9 1984.9,366.5 1988.3,372.5 1991.8,370.2 1994,362 1999.7,355.4 2001.4,353.9 2005.4,361.1 2007.9,357.5 2010.3,361.5 2014.9,368.3 2018.3,361.7 2020.8,355.9 2022.9,354.1 2026.3,346 2029.7,336.8 2034.3,340.2 2036.9,342.2 2040,339.8 2043.4,344.8 2045.7,341.2 2051.4,346.8 2054.9,332.5 2060.6,332.8 2062.7,330.6 2066.3,336.5 2069.2,338.3 2072,335.8 2076.6,349 2078.9,327.9 2081.1,313.8 2085.7,305.3 2088.5,313.4 2090.3,312.2 2093.7,331.6 2096.6,339.5 2099.4,316.3 2102.9,303.8 2104.7,297.4 2106.9,299.7 2112,302.2 2114.3,321.1 2118.9,320.8 2120.8,327.5 2123.4,327.6 2125.7,343.5 2128.6,348.8 2130.5,344 2132.6,339.2 2134.9,320.9 2138.3,302.7 2140.1,306.6 2142.9,304.9 2146.6,301.4 2149.7,305.9 2153.1,312 2156.3,319.4 2158.9,317.9 2159,322.4 2162.7,329.3 2164.7,329 2169.3,340.5 2173.9,323 2175.6,320.6 2178.8,321 2181.9,317.6 2185.3,316.5 2188.7,312.1 2193.3,298.7 2199,283.1 2201.4,290.7 2204.7,293 2209.3,296.2 2211.1,288.7 2213.9,289.2 2217.5,283.8 2220.7,287.7 2224,283.9 2227.6,287.9 2232.1,280.4 2236.9,288.3 2239,285.9 2244.7,293 2246.6,294.7 2249.3,306.2 2252.7,318.2 2256.1,344.8 2259.5,348.2 2261.9,346.9 2267.6,351.3 2272.1,317.5 2276.7,296 2278.8,296.4 2282,301.3 2284.7,300.9 2288.5,304.8 2292.7,312.1 2294.9,323.1 2298.4,329.3 2303,324.6 2308.7,317.9 2311.1,322.8 2314.4,320.2 2317.5,328.5 2321.3,329 2324.7,345.2 2328.7,352.2 2330.4,344.7 2332.9,334.9"/>
<polyline class="c" stroke="#00ff00" points="399.1,1596.9 399.9,1584.4 402,1574.1 405,1567.6 407.1,1563.7 411.4,1589 414.6,1605.6 418,1625.7 422.6,1606.8 424.3,1607.2 427.5,1603.7 429.4,1603.8 434,1605.9 438.6,1610.7 440.4,1607.8 443.7,1605.6 447.7,1604 450.1,1596 454.6,1585.8 456.6,1583.7 459.8,1584.6 463,1582.1 464.9,1583.4 469.5,1572 472.9,1566.1 477.4,1555.5 479.1,1556 482.4,1552.3 486.6,1551.3 488.8,1546.6 493.4,1542.1 495.7,1528.2 498.5,1522.4 501.4,1513 504.9,1515.2 508.3,1513.2 511.4,1505.9 516.3,1496.8 522,1476.3 524.3,1474.3 527.5,1472.8 530,1468.3 534,1463.3 538,1460.1 540.4,1453.4 542.6,1451 546,1434.7 550.1,1433.3 553.3,1427.7 557.4,1425.6 559.8,1417.5 563,1412.1 566.6,1400.4 569.4,1395.9 572.7,1385.4 575.7,1380 579.1,1371.9 582.3,1368.8 584.9,1361.3 588.8,1345.8 590.6,1341.6 595.2,1334.2 598.5,1334.7 600.9,1329.2 604.9,1325.5 608.1,1318 612.3,1313.9 614.6,1308.3 617.8,1307.1 621.4,1299.7 624.3,1291.2 626,1281.3 630.7,1276.8 634,1268.5 637.4,1266.1 640.4,1255.2 644.3,1247.9 646.9,1241.4 650.1,1241.3 653.3,1233.6 655.7,1234 659.8,1224.6 663,1222.7 667.1,1212.2 669.4,1210.5 672.7,1203.4 676.3,1191.5 679.1,1194.2 682.3,1188.2 685.6,1190.5 687.7,1185 692,1181.1 695.2,1171.3 699.1,1167.9 701.7,1160.1 704.9,1155 708.1,1154.4 710.6,1146.3 714.6,1146.6 717.8,1140.6 719.7,1143.4 724.3,1131.8 727.5,1130.7 731.1,1120.9 733.9,1123.1 737.2,1117.2 740.4,1119.7 742.6,1113.4 746.8,1106.9 750.1,1107 753.3,1097.3 756.5,1097.4 760.9,1086.4 763,1089.2 767.7,1079.3 769.4,1080.3 772.6,1069.2 774.6,1070.3 779.1,1061.2 783.7,1061.2 785.5,1052.4 788.8,1052.3 792.9,1040.3 795.2,1043.6 799.7,1036.1 801.7,1042.4 804.9,1037.5 808.9,1046.2 811.3,1034.7 814.6,1034.7 818,1022.3 821,1025.9 824.2,1017.2 827.5,1021.3 829.4,1015.2 834,1011.8 837.1,1003.9 840.4,1007 843.1,999.3 846.8,998.3 850,987.4 853.3,990.6 856.9,982.7 859.1,975.1 862.9,967.7 866.2,973.1 870.6,963.8 872.6,968.5 875.8,958.9 879.7,961.1 882.3,952.1 886.6,955.2 888.9,937.5 892,942.4 895.7,933.8 898.4,935.1 900.3,926 904.9,923.3 908.1,915.3 911.3,921.2 914,920.7 918.6,906.7 921,914.7 924.2,909.9 927.4,917.5 930,912.4 934.6,899.1 937.1,888.8 940.3,891.3 943.7,879.1 946.8,886.3 950,881.3 952.9,888.5 956.5,872.6 959.7,872.2 962.9,861.6 966.1,858.5 968.9,854.1 972.6,862.7 975.7,856.1 979.1,859.3 982.6,847.2 985.5,850.7 989.4,840.7 992,839 995.2,843.8 998.6,839.9 1003.1,824.2 1004.9,830.6 1009.1,823 1011.3,826.3 1014.5,813.4 1018.3,814.5 1021,810.1 1025.1,818.2 1027.4,814.8 1030.7,801.3 1034.3,800 1037.1,796.2 1041.1,808 1043.6,795.2 1046.8,792.8 1050.3,778.2 1053.2,780.2 1056.5,768.1 1059.4,770.5 1062.9,757.8 1067.4,755.5 1069.4,751.9 1073.1,766.5 1075.8,757.6 1079,764.2 1082.3,754.3 1086.9,759.4 1088.7,749.7 1091.9,746.2 1095.2,747.9 1098.3,736.1 1101.6,746.4 1104.8,740.9 1107.4,750.6 1111.3,734.7 1114.3,733.5 1117.7,724.6 1121,731 1125.7,721 1127.4,722.7 1130.6,716.7 1132.6,705 1137.1,708.7 1139.4,717.8 1143.5,710.8 1146.8,718.5 1148.6,710.6 1153.2,705.2 1155.4,692.5 1159.7,703.6 1162.9,699.3 1164.6,706.6 1169.3,695.4 1173.7,697.5 1175.8,686 1180.6,681.9 1185.5,678.3 1189.7,688.3 1191.9,676.7 1196.6,675.7 1198.4,666.2 1201.6,663.9 1205.7,667.7 1208,658.1 1212.6,658.1 1214.5,652.4 1219.4,659.8 1224.2,656.3 1226.3,665.1 1232,642.4 1233.8,653.2 1237.7,652.3 1240.3,656.3 1243.5,645.4 1246.9,647.6 1250,631.3 1253.2,628.4 1254.9,616 1259.6,631.7 1262.9,631.5 1266.1,640.1 1269.7,636.4 1272.5,637.6 1275.8,627.9 1278.9,629.3 1282.2,616.2 1285.4,617.6 1288,606.2 1291.9,611 1295.1,608.4 1297.1,602.4 1302.6,612.5 1304.8,610.3 1307.1,619.3 1312.9,603.1 1317.4,616.7 1320.9,589.3 1324.2,588.1 1326.6,579.8 1330.6,584.9 1333.4,581.5 1338,596.8 1340.3,588 1342.6,588 1348.3,574.9 1354,581.2 1356.4,573.4 1358.6,566.4 1362,560.1 1366.6,574.3 1370,581 1374,588.4 1375.8,581.2 1380.3,576.7 1382.2,573.4 1387.1,579.3 1392.9,567.1 1395.1,572.4 1397.4,569.8 1399.7,558.6 1401.6,554.8 1405.4,557 1408,548.6 1410,549.4 1415.7,554.4 1417.7,558.5 1422.6,555.3 1427.4,564.1 1429.4,562.1 1433.4,572.9 1437.4,555.4 1440.3,556.1 1444.3,548.3 1446.7,551.5 1449.9,547 1452.3,550.2 1458,539.5 1462.6,530.1 1466.1,530.2 1468.3,537.2 1472.9,538.9 1475.1,549 1478.6,561.2 1482.2,550.4 1484.3,547.7 1488.9,535.8 1491.9,547.7 1494.6,551.6 1499.1,532.7 1501.5,531.3 1504.9,521.2 1508,527.4 1510.6,529.1 1514.4,525.3 1516.3,529.2 1519.7,516.6 1524.3,517.3 1527.7,532.4 1530,531.6 1532.3,535.6 1535.7,520.7 1539.1,511.2 1544.9,509.1 1546.7,506.2 1549.9,512.1 1552.9,510.1 1556.4,518.2 1558.6,516.2 1564.3,515.2 1566,513.6 1568.9,521.3 1572.3,493.9 1575.7,494.3 1578.9,497.8 1581.4,506.9 1586,491.6 1588.6,490.5 1591.7,493.6 1595.1,506.2 1598.3,504.4 1600.9,509.6 1604.7,501.7 1607.7,503.5 1612.3,490.1 1614.4,494.8 1619.1,492.7 1620.9,500.3 1624.3,502.6 1628.3,482.1 1629.4,475.5 1635.1,470.6 1637,474.1 1640.2,468.9 1642,472.5 1647.7,469.4 1649.9,459.9 1652.3,458.6 1655.7,471.3 1656.9,485.9 1659.6,465.7 1661.4,459.3 1667.1,465.3 1670.6,483.7 1672.5,477.2 1676.3,476.4 1679.7,476.5 1682.2,484.7 1684.3,484.9 1687.7,463 1690,450.4 1691.8,453.6 1694.6,447.6 1698.3,452.4 1700.3,458.5 1704.9,458.6 1709.4,452.2 1711.2,445.5 1712.9,442.4 1717.4,458.6 1720.9,472.7 1724.1,478.8 1726.6,477 1730.5,482.1 1732.3,489.1 1735.7,465.5 1739.1,453.9 1743.7,447.9 1748.3,454.5 1752.9,457.1 1757.4,450.7 1760.9,442.5 1762.8,449.5 1765.4,447.9 1767.7,469.1 1770,446.5 1773.4,461.9 1776.9,465.5 1778.9,466.2 1781.4,458 1786,451 1788.6,440 1790.6,439.2 1796.3,441.8 1798.3,448 1803.1,448.8 1806.6,439.1 1812.3,441.6 1814.4,450.1 1816.9,451.4 1821.4,445.2 1824.9,429.7 1828.3,427 1830.5,437.8 1832.9,440.5 1838.6,454.2 1843.1,435 1846.6,426.5 1849.9,425.7 1853.4,433.1 1856.3,430.5 1859.1,423.4 1861.4,407 1864.9,399.8 1870.6,410.3 1874,395.4 1876.9,396 1878.9,396.7 1880.9,404.4 1884.3,416.7 1888.9,406.8 1893.4,404.7 1898,400.8 1902.6,400.4 1904.7,398.8 1908.3,406.9 1911.7,387.1 1914,386.9 1918.6,391.4 1920.9,416.2 1924.3,419.5 1927.7,400.4 1928.9,396 1933.4,406.8 1936.9,416.4 1940.2,409.7 1942.6,412.1 1946,405.3 1948.3,366.7 1952.3,364.7 1957.4,370.8 1959.7,381.1 1964.3,367.6 1968.9,371 1972.3,378.1 1975.7,397.8 1978.9,400.8 1981.4,398.3 1985.3,404.6 1988.3,401.1 1992.9,398.7 1996.3,384.4 1999.7,385.1 2001.4,386.9 2004.3,398.6 2007.9,388.2 2010.3,387 2013.7,400.2 2017.6,399.8 2019.4,405 2022.9,379.9 2028.6,402.5 2030.3,362 2032,363.3 2033.7,363.7 2037.7,377.9 2040.2,361.3 2042.3,355 2045.7,347.3 2050.3,376.7 2053.7,351.2 2056.3,353.1 2059.5,351.9 2061.7,349.9 2065.1,362.8 2068.6,371.6 2073.1,366.2 2075.6,355.6 2077.7,354.4 2082.3,363.9 2084.6,332 2086.3,327.2 2088.5,327.5 2091.4,337.9 2094.9,360.8 2098.3,365.4 2102.9,350.8 2104.7,346.1 2106.9,331.4 2110.9,348.9 2114.3,362.1 2118.9,354.6 2120.8,356.1 2123.4,366.6 2128,379.8 2130.5,377.5 2132.6,368.3 2137.1,343 2139.4,320.4 2142.9,311.7 2147.4,324.9 2150.9,345.2 2153,346.3 2157.7,337 2159,344.9 2162.7,348.5 2164.7,356.6 2169.2,362.3 2172.7,362.5 2175.6,355.4 2178.4,341.1 2183,335.1 2185.3,331.6 2188.7,336.5 2193.3,352.4 2196.7,322.2 2200.7,299.2 2205.9,322.4 2208.1,345.3 2212.7,312.5 2217.3,318 2221.9,336.1 2224,319.6 2226.4,310.2 2231,288.2 2233.7,294.8 2236.7,305.6 2241.3,304.5 2243.3,308.9 2245.9,318.2 2250.4,333.7 2253,333.3 2257.3,342.3 2259.5,339.3 2261.9,344.5 2265.3,318.4 2268.7,340.1 2273.3,317.5 2275.6,313.5 2279,310.5 2283.6,292.7 2288.1,310.4 2292.7,329 2294.9,341.5 2297.3,346.2 2303,365.8 2307.6,329.7 2311,328.5 2314.3,347.4 2316.7,367.2 2321.3,317.8 2323.6,331.6 2328.1,295.4 2331.6,306.2 2332.9,325.7"/>
</g>
<g id="axes" class="ax">
<rect x="269.5" y="61" width="2096.4" height="1689.3" stroke-width="6.3"/>
<path stroke-width="6" d="M236.9 1750.3H269.5M253.7 1673.5H269.5M2350.1 1673.5H2365.9M236.9 1596.7H269.5M2333.3 1596.7H2365.9M253.7 1519.9H269.5M2350.1 1519.9H2365.9M236.9 1443.2H269.5M2333.3 1443.2H2365.9M253.7 1366.4H269.5M2350.1 1366.4H2365.9M236.9 1289.6H269.5M2333.3 1289.6H2365.9M253.7 1212.8H269.5M2350.1 1212.8H2365.9M236.9 1136H269.5M2333.3 1136H2365.9M253.7 1059.2H269.5M2350.1 1059.2H2365.9M236.9 982.4H269.5M2333.3 982.4H2365.9M253.7 905.6H269.5M2350.1 905.6H2365.9M236.9 828.9H269.5M2333.3 828.9H2365.9M253.7 752.1H269.5M2350.1 752.1H2365.9M236.9 675.3H269.5M2333.3 675.3H2365.9M253.7 598.5H269.5M2350.1 598.5H2365.9M236.9 521.7H269.5M2333.3 521.7H2365.9M253.7 444.9H269.5M2350.1 444.9H2365.9M236.9 368.1H269.5M2333.3 368.1H2365.9M253.7 291.4H269.5M2350.1 291.4H2365.9M236.9 214.6H269.5M2333.3 214.6H2365.9M253.7 137.8H269.5M2350.1 137.8H2365.9M236.9 61H269.5M269.5 1750.3V1782.9M430.8 1750.3V1766.1M430.8 61V76.8M592 1750.3V1782.9M592 61V93.6M753.3 1750.3V1766.1M753.3 61V76.8M914.5 1750.3V1782.9M914.5 61V93.6M1075.8 1750.3V1766.1M1075.8 61V76.8M1237.1 1750.3V1782.9M1237.1 61V93.6M1398.3 1750.3V1766.1M1398.3 61V76.8M1559.6 1750.3V1782.9M1559.6 61V93.6M1720.9 1750.3V1766.1M1720.9 61V76.8M1882.1 1750.3V1782.9M1882.1 61V93.6M2043.4 1750.3V1766.1M2043.4 61V76.8M2204.6 1750.3V1782.9M2204.6 61V93.6M2365.9 1750.3V1766.1"/>
</g>
<g id="yticks" class="tk" text-anchor="end">
<text x="213.5" y="1765.8">5</text>
<text x="213.5" y="1612.3">10</text>
<text x="213.5" y="1458.7">15</text>
<text x="213.5" y="1305.1">20</text>
<text x="213.5" y="1151.6">25</text>
<text x="213.5" y="998">30</text>
<text x="213.5" y="844.4">35</text>
<text x="213.5" y="690.8">40</text>
<text x="213.5" y="537.3">45</text>
<text x="213.5" y="383.7">50</text>
<text x="213.5" y="230.1">55</text>
<text x="213.5" y="76.5">60</text>
</g>
<g id="xticks" class="tk" text-anchor="middle">
<text x="269.5" y="1856.3">200</text>
<text x="592" y="1856.3">300</text>
<text x="914.5" y="1856.3">400</text>
<text x="1237.1" y="1856.3">500</text>
<text x="1559.6" y="1856.3">600</text>
<text x="1882.1" y="1856.3">700</text>
<text x="2204.6" y="1856.3">800</text>
</g>
<text class="ttl" text-anchor="middle" x="1317.7" y="1968">Wavelength (nm)</text>
<text class="yl" text-anchor="middle" transform="translate(96.5 901.7) rotate(-90) scale(0.896 1)" x="0" y="0">R%</text>
<g id="legend">
<line x1="1247.3" y1="1235" x2="1442.3" y2="1235" stroke="#0000ff" stroke-width="12.5" stroke-linecap="round"/>
<text class="lg" x="1465" y="1265.6">Pro-Sb</text>
<line x1="1247.3" y1="1366.3" x2="1442.3" y2="1366.3" stroke="#ff0000" stroke-width="12.5" stroke-linecap="round"/>
<text class="lg" x="1465" y="1396.9">Com-Sint-Sb</text>
<line x1="1247.3" y1="1497.7" x2="1442.3" y2="1497.7" stroke="#00ff00" stroke-width="12.5" stroke-linecap="round"/>
<text class="lg" x="1465" y="1528.3">Pro-Sint-Sb</text>
<line x1="1247.3" y1="1629.2" x2="1442.3" y2="1629.2" stroke="#000000" stroke-width="12.5" stroke-linecap="round"/>
<text class="lg" x="1465" y="1659.8">Com-Sb</text>
</g>
</svg>
</body>
</html>
